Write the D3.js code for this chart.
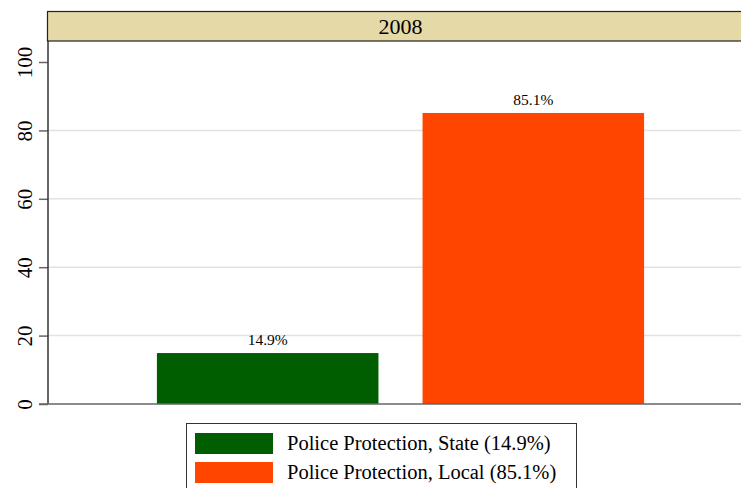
<!DOCTYPE html>
<html>
<head>
<meta charset="utf-8">
<script src="https://cdn.jsdelivr.net/npm/d3@7"></script>
<style>
  body { margin: 0; background: #fff; }
  svg { display: block; font-family: "Liberation Serif", "DejaVu Serif", serif; }
</style>
</head>
<body>
<svg id="chart" width="741" height="488"></svg>
<script>
var categories = ["Police Protection, State", "Police Protection, Local"]
var values = [14.9, 85.1]
var colors = ["#005e00", "#ff4500"]
var yTicks = [0, 20, 40, 60, 80, 100]
var gridTicks = [20, 40, 60, 80]
var panelTitle = "2008"

var svg = d3.select("#chart")
// note: "top" is a reserved window prop, so use plotTop
var left = 48, right = 753, plotTop = 41, bottom = 404

var x = d3.scaleBand()
    .domain(categories)
    .range([left, right])
    .paddingInner(0.166)
    .paddingOuter(0.41)

var y = d3.scaleLinear()
    .domain([0, 100])
    .range([bottom, 62])

// grid lines
svg.selectAll(".grid")
    .data(gridTicks)
    .enter().append("line")
    .attr("class", "grid")
    .attr("x1", left)
    .attr("x2", right)
    .attr("y1", d => y(d))
    .attr("y2", d => y(d))
    .attr("stroke", "#e2e2e2")
    .attr("stroke-width", 1.5)

// bars
svg.selectAll(".bar")
    .data(values)
    .enter().append("rect")
    .attr("class", "bar")
    .attr("x", (d, i) => x(categories[i]))
    .attr("y", d => y(d))
    .attr("width", x.bandwidth())
    .attr("height", d => y(0) - y(d))
    .attr("fill", (d, i) => colors[i])

svg.selectAll(".barlabel")
    .data(values)
    .enter().append("text")
    .attr("class", "barlabel")
    .attr("x", (d, i) => x(categories[i]) + x.bandwidth() / 2)
    .attr("y", d => y(d) - 8)
    .attr("text-anchor", "middle")
    .attr("font-size", 15.5)
    .text(d => d.toFixed(1) + "%")

// y axis
var yAxis = svg.append("g")
    .attr("transform", "translate(" + left + ",0)")
    .call(d3.axisLeft(y).tickValues(yTicks).tickSize(9).tickPadding(0).tickFormat(d3.format("d")))
yAxis.select(".domain").remove()
yAxis.selectAll(".tick line").attr("stroke", "#666").attr("stroke-width", 1.5)
yAxis.selectAll(".tick text")
    .attr("font-family", "Liberation Serif, serif")
    .attr("font-size", 21)
    .attr("fill", "#000")
    .attr("text-anchor", "middle")
    .attr("transform", "rotate(-90)")
    .attr("x", 0)
    .attr("y", -16)
    .attr("dy", 0)

svg.append("line")
    .attr("x1", left).attr("x2", left)
    .attr("y1", plotTop).attr("y2", bottom)
    .attr("stroke", "#333").attr("stroke-width", 1.5)
svg.append("line")
    .attr("x1", left - 9).attr("x2", right)
    .attr("y1", bottom).attr("y2", bottom)
    .attr("stroke", "#666").attr("stroke-width", 1.5)

// strip on top
var strip = svg.append("g").attr("class", "strip")
strip.append("rect")
    .attr("x", left - 0.5)
    .attr("y", 11.5)
    .attr("width", right - left + 1)
    .attr("height", plotTop - 11.5)
    .style("fill", "#e4d9a7")
    .style("stroke", "#222")
    .style("stroke-width", "1.2px")
strip.append("text")
    .attr("x", (left + right) / 2)
    .attr("y", 34)
    .attr("text-anchor", "middle")
    .attr("font-size", 22)
    .text(panelTitle)

// legend
var lg = svg.append("g")
lg.append("rect")
    .attr("x", 186.5)
    .attr("y", 423.5)
    .attr("width", 390)
    .attr("height", 80)
    .style("fill", "#fff")
    .style("stroke", "#333")
    .style("stroke-width", "1px")
var items = lg.selectAll(".item")
    .data(categories)
    .enter().append("g")
    .attr("class", "item")
    .attr("transform", (d, i) => "translate(195," + (433 + i * 29) + ")")
items.append("rect")
    .attr("width", 78)
    .attr("height", 21)
    .attr("fill", (d, i) => colors[i])
items.append("text")
    .attr("x", 92)
    .attr("y", 17)
    .attr("font-size", 20.5)
    .text((d, i) => d + " (" + values[i].toFixed(1) + "%)")
</script>
</body>
</html>
